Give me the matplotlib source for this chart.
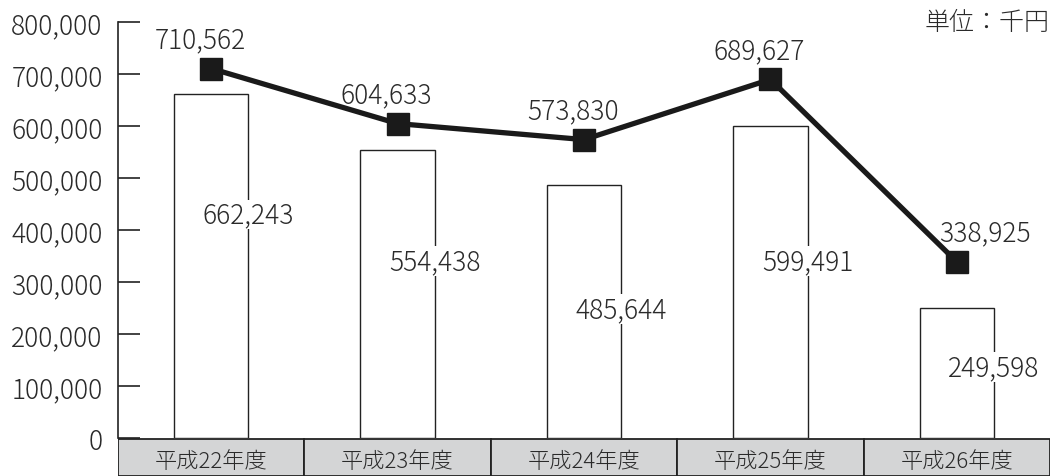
import matplotlib
matplotlib.use("Agg")
import matplotlib.pyplot as plt
from matplotlib.ticker import FuncFormatter

plt.rcParams['font.family'] = ['Noto Sans CJK JP', 'DejaVu Sans']

categories = ["平成22年度", "平成23年度", "平成24年度", "平成25年度", "平成26年度"]
bar_values = [662243, 554438, 485644, 599491, 249598]
line_values = [710562, 604633, 573830, 689627, 338925]
unit_label = "単位：千円"

# where the bar value labels sit (manual layout, as in the original)
bar_label_y = [430000, 340000, 248000, 340000, 136000]
line_label_dx = [-0.06, -0.06, -0.06, -0.06, 0.15]

W, H = 1054, 477
fig = plt.figure(figsize=(W / 100, H / 100), dpi=100)
left, right = 118 / W, 1050 / W
y0, ytop = (H - 439) / H, (H - 23) / H
ax = fig.add_axes([left, y0, right - left, ytop - y0])
axc = fig.add_axes([left, 0, right - left, y0])

txt = "#2a2a2a"
x = list(range(len(categories)))
ax.bar(x, bar_values, width=0.4, color="white", edgecolor="#222222", linewidth=1.0, zorder=2)
ax.plot(x, line_values, color="#1a1a1a", linewidth=3.8, marker="s", markersize=16,
        markerfacecolor="#1a1a1a", zorder=4)

for i in x:
    ax.text(i + 0.2, bar_label_y[i], f"{bar_values[i]:,}", ha="center", va="center",
            fontsize=19, color=txt, fontweight="light", zorder=3,
            bbox=dict(facecolor="white", edgecolor="none", pad=0.5))
    ax.text(i + line_label_dx[i], line_values[i] + 56000, f"{line_values[i]:,}",
            ha="center", va="center", fontsize=19, color=txt, fontweight="light", zorder=5)

ax.set_xlim(-0.5, len(categories) - 0.5)
ax.set_ylim(0, 800000)
ax.set_yticks(range(0, 800001, 100000))
ax.yaxis.set_major_formatter(FuncFormatter(lambda v, p: f"{int(v):,}"))
ax.tick_params(axis="y", direction="in", length=16, width=1.2, labelsize=19,
               colors="#222222", pad=11)
for lbl in ax.get_yticklabels():
    lbl.set_fontweight("light")
    lbl.set_color(txt)
ax.set_xticks([])
for s in ["top", "right", "bottom"]:
    ax.spines[s].set_visible(False)
ax.spines["left"].set_linewidth(1.2)
ax.spines["left"].set_color("#222222")

ax.text(1.0, 1.0, unit_label, transform=ax.transAxes, ha="right", va="center",
        fontsize=18, color=txt, fontweight="light")

axc.bar(x, [1] * len(x), width=1.0, color="#d4d5d6", edgecolor="#222222", linewidth=1.3)
for i in x:
    axc.text(i, 0.4, categories[i], ha="center", va="center", fontsize=16, color=txt,
             fontweight="light")
axc.set_xlim(-0.5, len(categories) - 0.5)
axc.set_ylim(0, 1.02)
axc.axis("off")

fig.savefig("out.png", dpi=100)
